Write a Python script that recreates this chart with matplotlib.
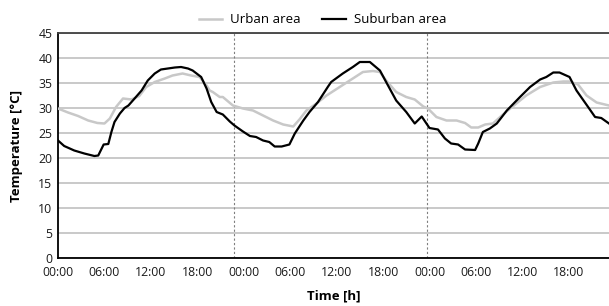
import matplotlib
matplotlib.use("Agg")
import matplotlib.pyplot as plt

# time in hours from the first midnight
urban_h = [0.0, 1.3, 2.6, 3.9, 5.1, 6.0, 6.7, 7.5, 8.4, 9.5, 10.5, 11.4, 12.5, 13.8,
           14.8, 16.1, 17.2, 18.3, 19.2, 19.6, 20.0, 20.9, 21.3, 22.6, 23.9, 25.2,
           26.5, 27.8, 29.1, 30.4, 31.2, 32.1, 33.4, 34.7, 36.4, 38.1, 39.4, 40.7,
           41.6, 42.4, 43.7, 45.0, 46.1, 47.2, 47.8, 48.9, 50.2, 51.5, 52.6, 53.4,
           54.3, 55.2, 56.2, 57.5, 59.3, 60.5, 62.3, 64.0, 65.3, 66.1, 67.2, 68.3,
           69.6, 71.2]
urban_t = [29.9, 29.1, 28.4, 27.5, 27.0, 26.9, 27.9, 30.2, 31.9, 31.7, 32.4, 34.2, 35.2,
           35.9, 36.5, 36.9, 36.5, 36.2, 34.5, 33.5, 33.2, 32.2, 32.2, 30.5, 29.9, 29.5,
           28.5, 27.5, 26.7, 26.3, 27.7, 29.5, 30.9, 32.5, 34.2, 35.9, 37.2, 37.4,
           37.2, 35.5, 33.2, 32.2, 31.7, 30.3, 29.9, 28.2, 27.5, 27.5, 27.0, 26.1,
           26.1, 26.7, 26.9, 28.7, 31.0, 32.5, 34.2, 35.1, 35.3, 35.3, 34.7, 32.5,
           31.1, 30.5]

suburban_h = [0.0, 0.8, 2.1, 3.4, 4.7, 5.2, 5.9, 6.5, 6.9, 7.3, 8.0, 8.6, 9.1, 9.9,
              10.8, 11.6, 12.5, 13.3, 14.2, 15.1, 15.9, 16.8, 17.4, 18.5, 19.2, 19.8,
              20.5, 21.3, 22.2, 22.8, 23.9, 24.8, 25.6, 26.5, 27.3, 28.0, 28.9, 29.9,
              30.6, 31.7, 32.5, 33.6, 34.9, 35.3, 36.8, 38.1, 39.0, 40.3, 41.6, 42.4,
              43.7, 45.0, 46.1, 47.0, 48.0, 49.1, 50.0, 50.8, 51.7, 52.6, 53.9, 54.3,
              54.9, 55.8, 56.7, 58.0, 59.7, 61.0, 62.3, 63.1, 64.0, 64.8, 66.1, 67.0,
              68.5, 69.4, 70.2, 71.2]
suburban_t = [23.5, 22.4, 21.5, 20.9, 20.4, 20.5, 22.7, 22.8, 25.2, 27.2, 28.9, 30.0,
              30.5, 31.9, 33.5, 35.5, 36.9, 37.7, 37.9, 38.1, 38.2, 37.9, 37.5, 36.2,
              33.9, 31.2, 29.2, 28.7, 27.3, 26.5, 25.3, 24.4, 24.2, 23.5, 23.2, 22.3,
              22.3, 22.7, 24.9, 27.5, 29.2, 31.2, 34.3, 35.2, 36.9, 38.2, 39.2, 39.2,
              37.5, 35.2, 31.5, 29.2, 26.9, 28.3, 26.0, 25.7, 23.9, 22.9, 22.7, 21.7,
              21.6, 22.9, 25.2, 25.9, 26.9, 29.5, 32.2, 34.2, 35.7, 36.2, 37.1, 37.1,
              36.2, 33.5, 30.2, 28.2, 28.0, 26.9]

tick_hours = list(range(0, 72, 6))
tick_labels = ["00:00", "06:00", "12:00", "18:00"] * 3
day_marks = [22.7, 47.7]

plt.rcParams['font.family'] = ['Open Sans', 'DejaVu Sans']

fig = plt.figure(figsize=(6.09, 3.06), dpi=100)
ax = fig.add_axes([58 / 609, 1 - 258 / 306, 551 / 609, 225 / 306])

ax.plot(urban_h, urban_t, color='#c8c8c8', lw=1.8, label='Urban area', zorder=3)
ax.plot(suburban_h, suburban_t, color='black', lw=1.6, label='Suburban area', zorder=4)

for d in day_marks:
    ax.axvline(d, color='#7f7f7f', lw=0.8, ls=(0, (2, 2)), zorder=2)

ax.set_xlim(0, 71.2)
ax.set_ylim(0, 45)
ax.set_yticks(range(0, 50, 5))
ax.set_xticks(tick_hours)
ax.set_xticklabels(tick_labels)
ax.yaxis.grid(True, color='#c0c0c0', lw=1.2)
ax.set_axisbelow(True)
ax.tick_params(length=0, labelsize=8.8, colors='#1a1a1a')
ax.tick_params(axis='x', pad=6)
ax.tick_params(axis='y', pad=4)

ax.spines['right'].set_visible(False)
ax.spines['top'].set_color('#404040')
ax.spines['top'].set_linewidth(1.3)
ax.spines['left'].set_linewidth(1.3)
ax.spines['bottom'].set_linewidth(1.3)

ax.set_xlabel('Time [h]', fontsize=9.5, fontweight='bold', labelpad=7)
ax.set_ylabel('Temperature [°C]', fontsize=9.5, fontweight='bold', labelpad=11)

ax.legend(loc='lower center', bbox_to_anchor=(0.48, 1.0), ncol=2, frameon=False,
          fontsize=9.5, handlelength=1.8, handletextpad=0.6, columnspacing=1.6,
          borderaxespad=0.1)

fig.savefig('out.png', dpi=100)
